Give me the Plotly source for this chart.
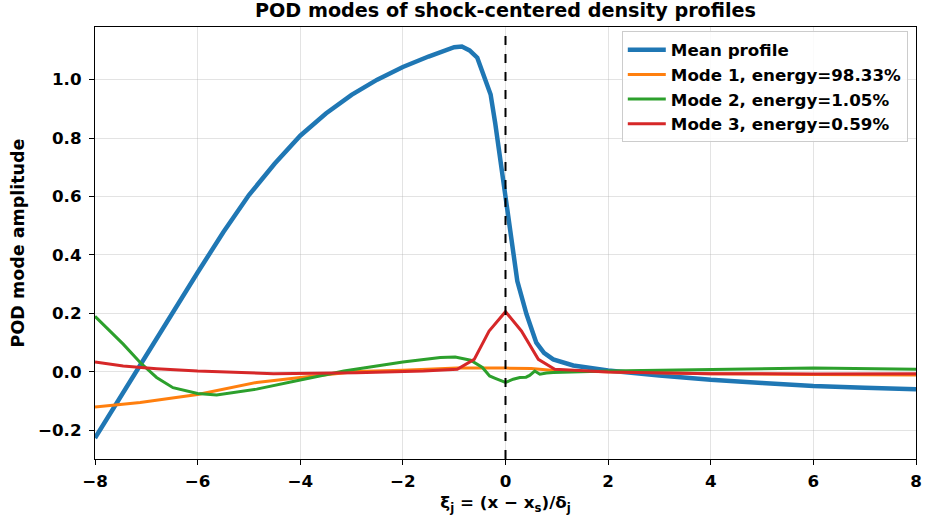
import plotly.graph_objects as go

# Mean profile
x_mean = [-8, -7.5, -7, -6.5, -6, -5.5, -5, -4.5, -4, -3.5, -3, -2.5, -2, -1.5, -1.2,
          -1.0, -0.85, -0.7, -0.55, -0.4, -0.29, -0.2, -0.1, 0, 0.1, 0.23, 0.41, 0.6,
          0.75, 0.93, 1.32, 2, 3, 4, 5, 6, 7, 8]
y_mean = [-0.226, -0.083, 0.06, 0.2, 0.34, 0.478, 0.605, 0.712, 0.808, 0.884, 0.948,
          1.0, 1.043, 1.079, 1.099, 1.111, 1.113, 1.1, 1.075, 1.0, 0.949, 0.85, 0.72,
          0.6, 0.46, 0.311, 0.197, 0.10, 0.065, 0.043, 0.022, 0.005, -0.012, -0.027,
          -0.038, -0.048, -0.054, -0.059]

# Mode 1
x_m1 = [-8, -7.12, -6, -4.85, -4, -2.9, -2, -0.94, 0, 0.5, 1, 2, 4, 6, 8]
y_m1 = [-0.12, -0.105, -0.077, -0.036, -0.019, 0.001, 0.006, 0.013, 0.013, 0.012,
        0.004, 0.0, -0.006, -0.009, -0.011]

# Mode 2
x_m2 = [-8, -7.45, -7.12, -6.8, -6.48, -6, -5.63, -4.85, -4, -3.15, -2, -1.27, -0.98,
        -0.68, -0.45, -0.31, -0.2, 0, 0.15, 0.28, 0.4, 0.47, 0.57, 0.67, 0.8, 0.93,
        2, 4, 6, 8]
y_m2 = [0.19, 0.095, 0.032, -0.019, -0.054, -0.074, -0.079, -0.059, -0.028, 0.003,
        0.034, 0.049, 0.051, 0.04, 0.015, -0.014, -0.022, -0.036, -0.025, -0.019,
        -0.018, -0.012, 0.003, -0.008, -0.004, -0.002, 0.003, 0.009, 0.013, 0.009]

# Mode 3
x_m3 = [-8, -7.45, -6.8, -6, -4.52, -2.9, -1.6, -0.94, -0.61, -0.32, 0, 0.31, 0.64,
        0.96, 2, 4, 6, 8]
y_m3 = [0.034, 0.02, 0.011, 0.003, -0.006, -0.003, 0.003, 0.009, 0.043, 0.14, 0.206,
        0.14, 0.043, 0.009, 0.0, -0.006, -0.007, -0.006]

x_ticks = [-8, -6, -4, -2, 0, 2, 4, 6, 8]
y_ticks = [-0.2, 0.0, 0.2, 0.4, 0.6, 0.8, 1.0]

fig = go.Figure()
fig.add_trace(go.Scatter(x=x_mean, y=y_mean, mode="lines", name="Mean profile",
                         line=dict(color="#1f77b4", width=4.5)))
fig.add_trace(go.Scatter(x=x_m1, y=y_m1, mode="lines", name="Mode 1, energy=98.33%",
                         line=dict(color="#ff7f0e", width=3)))
fig.add_trace(go.Scatter(x=x_m2, y=y_m2, mode="lines", name="Mode 2, energy=1.05%",
                         line=dict(color="#2ca02c", width=3)))
fig.add_trace(go.Scatter(x=x_m3, y=y_m3, mode="lines", name="Mode 3, energy=0.59%",
                         line=dict(color="#d62728", width=3)))

fig.add_shape(type="line", x0=0, x1=0, xref="x", y0=0, y1=1, yref="paper",
              line=dict(color="black", width=2, dash="dash"))

axis_common = dict(showline=True, linecolor="black", linewidth=1.2, mirror=True,
                   ticks="outside", ticklen=5, tickcolor="black", tickwidth=1.2,
                   showgrid=True, gridcolor="rgba(176,176,176,0.35)", gridwidth=1,
                   zeroline=False, automargin=False,
                   tickfont=dict(family="DejaVu Sans", size=16.7, color="black", weight="bold"))

fig.update_layout(
    width=925, height=519,
    margin=dict(l=95, r=9, t=27, b=60),
    paper_bgcolor="white", plot_bgcolor="white",
    font=dict(family="DejaVu Sans", color="black", weight="bold"),
    title=dict(text="POD modes of shock-centered density profiles",
               x=0.5, xanchor="center", xref="paper", y=0.993, yanchor="top",
               font=dict(family="DejaVu Sans", size=19.2, color="black", weight="bold")),
    xaxis=dict(range=[-8, 8], tickvals=x_ticks, ticklabelstandoff=2,
               title=dict(text="ξ<sub>j</sub> = (x − x<sub>s</sub>)/δ<sub>j</sub>",
                          font=dict(family="DejaVu Sans", size=16.7, weight="bold"),
                          standoff=6),
               **axis_common),
    yaxis=dict(range=[-0.298, 1.18], tickvals=y_ticks, tickformat=".1f",
               ticklabelstandoff=4,
               title=dict(text="POD mode amplitude",
                          font=dict(family="DejaVu Sans", size=17.5, weight="bold"),
                          standoff=8),
               **axis_common),
    legend=dict(x=0.99, xanchor="right", y=0.99, yanchor="top",
                bgcolor="rgba(255,255,255,0.85)", bordercolor="#cccccc", borderwidth=1,
                font=dict(family="DejaVu Sans", size=16.7, color="black", weight="bold"),
                tracegroupgap=0, itemwidth=38),
    showlegend=True,
)

fig.write_html("out.html")
